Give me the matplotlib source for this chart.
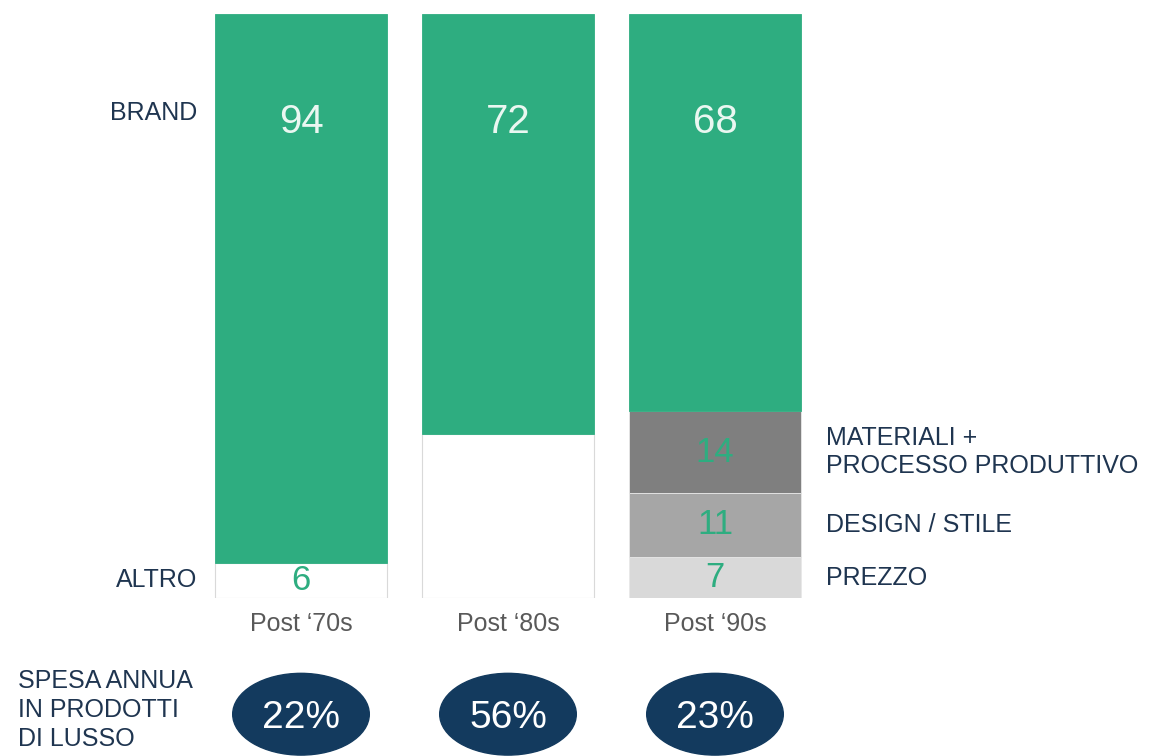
import matplotlib.pyplot as plt
from matplotlib.patches import Ellipse

plt.rcParams["font.family"] = ["Liberation Sans", "DejaVu Sans"]

# dati (quote % per periodo)
periodi = ["Post \u201870s", "Post \u201880s", "Post \u201890s"]
brand = [94, 72, 68]
altro = [6, 28, 0]
prezzo = [0, 0, 7]
design = [0, 0, 11]
materiali = [0, 0, 14]
spesa = [22, 56, 23]

altro_lbl = ["6", "", ""]

GREEN = "#2EAD80"
NAVY = "#133A5E"
TXT = "#1F3550"
GRAY_TXT = "#595959"

fig = plt.figure(figsize=(11.63, 7.56), dpi=100)
ax = fig.add_axes([197.5 / 1163, 158 / 756, 621 / 1163, 584 / 756])

x = list(range(len(periodi)))
w = 0.83

# barre impilate dal basso
bottom = [0] * 3
ax.bar(x, altro, w, bottom=bottom, color="white", edgecolor="#D9D9D9", linewidth=0.8)
for i in x:
    if altro_lbl[i]:
        ax.text(i, bottom[i] + altro[i] / 2, altro_lbl[i], ha="center", va="center",
                fontsize=25, color=GREEN)
bottom = [b + v for b, v in zip(bottom, altro)]

segs = [(prezzo, "#D9D9D9", "PREZZO"),
        (design, "#A6A6A6", "DESIGN / STILE"),
        (materiali, "#7F7F7F", "MATERIALI +\nPROCESSO PRODUTTIVO")]
for vals, col, lab in segs:
    ax.bar(x, vals, w, bottom=bottom, color=col, edgecolor="#E8E8E8", linewidth=0.6)
    for i in x:
        if vals[i]:
            ax.text(i, bottom[i] + vals[i] / 2, str(vals[i]), ha="center", va="center",
                    fontsize=25, color=GREEN)
    ax.text(2.536, bottom[2] + vals[2] / 2, lab, ha="left", va="center",
            fontsize=18, color=TXT, linespacing=1.2)
    bottom = [b + v for b, v in zip(bottom, vals)]

ax.bar(x, brand, w, bottom=bottom, color=GREEN, edgecolor=GREEN, linewidth=0.6)
for i in x:
    ax.text(i, 100 - 18.5, str(brand[i]), ha="center", va="center",
            fontsize=29, color="#EAF7F1")

# etichette a sinistra
ax.text(-0.5, 83, "BRAND", ha="right", va="center", fontsize=18, color=TXT)
ax.text(-0.5, altro[0] / 2, "ALTRO", ha="right", va="center", fontsize=18, color=TXT)

# spesa annua
for i in x:
    e = Ellipse((i, -19.9), 0.66, 14.0, color=NAVY, clip_on=False)
    ax.add_patch(e)
    ax.text(i, -20.5, f"{spesa[i]}%", ha="center", va="center", fontsize=28,
            color="white")
fig.text(18 / 1163, (756 - 710) / 756, "SPESA ANNUA\nIN PRODOTTI\nDI LUSSO",
         ha="left", va="center", fontsize=18, color=TXT, linespacing=1.25)

ax.set_xlim(-0.5, 2.5)
ax.set_ylim(0, 100)
ax.set_xticks(x)
ax.set_xticklabels(periodi, fontsize=18, color=GRAY_TXT)
ax.tick_params(axis="x", length=0, pad=10)
ax.set_yticks([])
for s in ax.spines.values():
    s.set_visible(False)

fig.savefig("out.png", dpi=100)
